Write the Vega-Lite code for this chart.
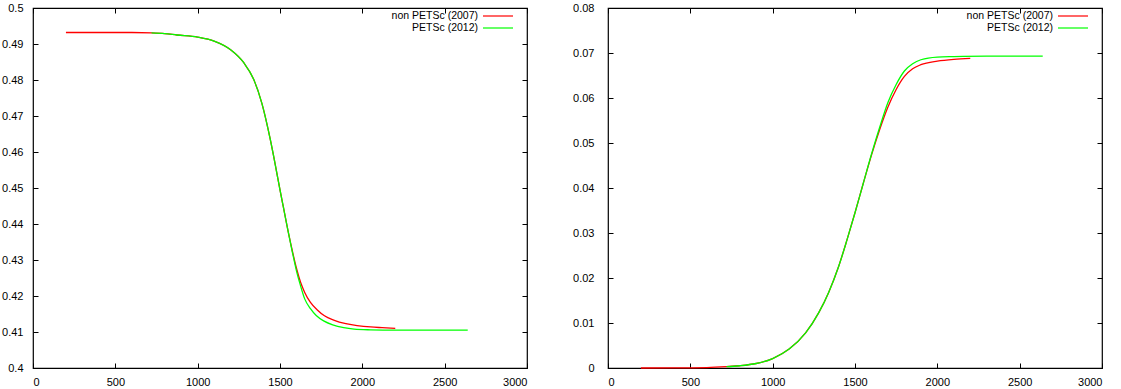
{
  "$schema": "https://vega.github.io/schema/vega-lite/v6.json",
  "autosize": {"type": "pad"},
  "padding": {"left": 0, "top": 1, "right": 0, "bottom": 0},
  "background": "white",
  "spacing": 81,
  "bounds": "flush",
  "config": {
    "view": {"stroke": "#000000", "strokeWidth": 1.2},
    "axis": {
      "grid": false, "domain": false, "tickColor": "#000000", "tickSize": -5, "tickWidth": 1,
      "labelFont": "Liberation Sans", "labelFontSize": 11, "labelColor": "#000000", "title": null
    },
    "legend": {
      "orient": "none", "legendX": 459, "legendY": 2, "padding": 0, "symbolType": "M-3,0H3",
      "symbolSize": 100, "symbolStrokeWidth": 1.2, "labelAlign": "right", "labelOffset": -26,
      "labelFont": "Liberation Sans", "labelFontSize": 10.5, "labelColor": "#000000",
      "rowPadding": 0, "title": null, "labelLimit": 300
    }
  },
  "datasets": {
    "left": [
      {"x": 200, "y": 0.4932, "s": "non PETSc (2007)"},
      {"x": 400, "y": 0.4932, "s": "non PETSc (2007)"},
      {"x": 600, "y": 0.4932, "s": "non PETSc (2007)"},
      {"x": 720, "y": 0.4931, "s": "non PETSc (2007)"},
      {"x": 800, "y": 0.4929, "s": "non PETSc (2007)"},
      {"x": 874, "y": 0.4925, "s": "non PETSc (2007)"},
      {"x": 1000, "y": 0.4919, "s": "non PETSc (2007)"},
      {"x": 1100, "y": 0.4908, "s": "non PETSc (2007)"},
      {"x": 1200, "y": 0.4884, "s": "non PETSc (2007)"},
      {"x": 1280, "y": 0.4848, "s": "non PETSc (2007)"},
      {"x": 1340, "y": 0.4802, "s": "non PETSc (2007)"},
      {"x": 1390, "y": 0.4735, "s": "non PETSc (2007)"},
      {"x": 1440, "y": 0.4637, "s": "non PETSc (2007)"},
      {"x": 1470, "y": 0.4568, "s": "non PETSc (2007)"},
      {"x": 1500, "y": 0.4495, "s": "non PETSc (2007)"},
      {"x": 1520, "y": 0.4448, "s": "non PETSc (2007)"},
      {"x": 1550, "y": 0.4378, "s": "non PETSc (2007)"},
      {"x": 1575, "y": 0.4325, "s": "non PETSc (2007)"},
      {"x": 1600, "y": 0.4277, "s": "non PETSc (2007)"},
      {"x": 1625, "y": 0.4238, "s": "non PETSc (2007)"},
      {"x": 1650, "y": 0.421, "s": "non PETSc (2007)"},
      {"x": 1685, "y": 0.4182, "s": "non PETSc (2007)"},
      {"x": 1725, "y": 0.4162, "s": "non PETSc (2007)"},
      {"x": 1770, "y": 0.4145, "s": "non PETSc (2007)"},
      {"x": 1826, "y": 0.4133, "s": "non PETSc (2007)"},
      {"x": 1900, "y": 0.4123, "s": "non PETSc (2007)"},
      {"x": 1968, "y": 0.4118, "s": "non PETSc (2007)"},
      {"x": 2050, "y": 0.4114, "s": "non PETSc (2007)"},
      {"x": 2120, "y": 0.4112, "s": "non PETSc (2007)"},
      {"x": 2200, "y": 0.411, "s": "non PETSc (2007)"},
      {"x": 720, "y": 0.4931, "s": "PETSc (2012)"},
      {"x": 800, "y": 0.4929, "s": "PETSc (2012)"},
      {"x": 874, "y": 0.4925, "s": "PETSc (2012)"},
      {"x": 1000, "y": 0.4919, "s": "PETSc (2012)"},
      {"x": 1100, "y": 0.4908, "s": "PETSc (2012)"},
      {"x": 1200, "y": 0.4884, "s": "PETSc (2012)"},
      {"x": 1280, "y": 0.4848, "s": "PETSc (2012)"},
      {"x": 1340, "y": 0.4802, "s": "PETSc (2012)"},
      {"x": 1390, "y": 0.4735, "s": "PETSc (2012)"},
      {"x": 1440, "y": 0.4637, "s": "PETSc (2012)"},
      {"x": 1470, "y": 0.4568, "s": "PETSc (2012)"},
      {"x": 1500, "y": 0.4495, "s": "PETSc (2012)"},
      {"x": 1520, "y": 0.4448, "s": "PETSc (2012)"},
      {"x": 1550, "y": 0.4378, "s": "PETSc (2012)"},
      {"x": 1575, "y": 0.4322, "s": "PETSc (2012)"},
      {"x": 1600, "y": 0.427, "s": "PETSc (2012)"},
      {"x": 1625, "y": 0.4228, "s": "PETSc (2012)"},
      {"x": 1650, "y": 0.4192, "s": "PETSc (2012)"},
      {"x": 1685, "y": 0.4165, "s": "PETSc (2012)"},
      {"x": 1720, "y": 0.4146, "s": "PETSc (2012)"},
      {"x": 1765, "y": 0.4131, "s": "PETSc (2012)"},
      {"x": 1820, "y": 0.412, "s": "PETSc (2012)"},
      {"x": 1887, "y": 0.4112, "s": "PETSc (2012)"},
      {"x": 1950, "y": 0.4108, "s": "PETSc (2012)"},
      {"x": 2050, "y": 0.4106, "s": "PETSc (2012)"},
      {"x": 2200, "y": 0.4105, "s": "PETSc (2012)"},
      {"x": 2640, "y": 0.4105, "s": "PETSc (2012)"}
    ],
    "right": [
      {"x": 200, "y": 0, "s": "non PETSc (2007)"},
      {"x": 400, "y": 0.00002, "s": "non PETSc (2007)"},
      {"x": 600, "y": 0.0001, "s": "non PETSc (2007)"},
      {"x": 720, "y": 0.0003, "s": "non PETSc (2007)"},
      {"x": 800, "y": 0.0005, "s": "non PETSc (2007)"},
      {"x": 900, "y": 0.001, "s": "non PETSc (2007)"},
      {"x": 1000, "y": 0.0021, "s": "non PETSc (2007)"},
      {"x": 1100, "y": 0.0042, "s": "non PETSc (2007)"},
      {"x": 1200, "y": 0.0078, "s": "non PETSc (2007)"},
      {"x": 1280, "y": 0.0123, "s": "non PETSc (2007)"},
      {"x": 1340, "y": 0.0168, "s": "non PETSc (2007)"},
      {"x": 1400, "y": 0.0225, "s": "non PETSc (2007)"},
      {"x": 1450, "y": 0.0283, "s": "non PETSc (2007)"},
      {"x": 1500, "y": 0.0345, "s": "non PETSc (2007)"},
      {"x": 1550, "y": 0.041, "s": "non PETSc (2007)"},
      {"x": 1600, "y": 0.0473, "s": "non PETSc (2007)"},
      {"x": 1650, "y": 0.053, "s": "non PETSc (2007)"},
      {"x": 1700, "y": 0.058, "s": "non PETSc (2007)"},
      {"x": 1750, "y": 0.0619, "s": "non PETSc (2007)"},
      {"x": 1800, "y": 0.0648, "s": "non PETSc (2007)"},
      {"x": 1850, "y": 0.0665, "s": "non PETSc (2007)"},
      {"x": 1900, "y": 0.0674, "s": "non PETSc (2007)"},
      {"x": 2000, "y": 0.0682, "s": "non PETSc (2007)"},
      {"x": 2100, "y": 0.0686, "s": "non PETSc (2007)"},
      {"x": 2200, "y": 0.0688, "s": "non PETSc (2007)"},
      {"x": 720, "y": 0.0003, "s": "PETSc (2012)"},
      {"x": 800, "y": 0.0005, "s": "PETSc (2012)"},
      {"x": 900, "y": 0.001, "s": "PETSc (2012)"},
      {"x": 1000, "y": 0.0021, "s": "PETSc (2012)"},
      {"x": 1100, "y": 0.0042, "s": "PETSc (2012)"},
      {"x": 1200, "y": 0.0078, "s": "PETSc (2012)"},
      {"x": 1280, "y": 0.0123, "s": "PETSc (2012)"},
      {"x": 1340, "y": 0.0168, "s": "PETSc (2012)"},
      {"x": 1400, "y": 0.0225, "s": "PETSc (2012)"},
      {"x": 1450, "y": 0.0283, "s": "PETSc (2012)"},
      {"x": 1500, "y": 0.0345, "s": "PETSc (2012)"},
      {"x": 1550, "y": 0.041, "s": "PETSc (2012)"},
      {"x": 1600, "y": 0.0475, "s": "PETSc (2012)"},
      {"x": 1650, "y": 0.0535, "s": "PETSc (2012)"},
      {"x": 1700, "y": 0.059, "s": "PETSc (2012)"},
      {"x": 1750, "y": 0.063, "s": "PETSc (2012)"},
      {"x": 1800, "y": 0.066, "s": "PETSc (2012)"},
      {"x": 1850, "y": 0.0676, "s": "PETSc (2012)"},
      {"x": 1900, "y": 0.0685, "s": "PETSc (2012)"},
      {"x": 2000, "y": 0.0691, "s": "PETSc (2012)"},
      {"x": 2100, "y": 0.0692, "s": "PETSc (2012)"},
      {"x": 2300, "y": 0.0693, "s": "PETSc (2012)"},
      {"x": 2640, "y": 0.0693, "s": "PETSc (2012)"}
    ]
  },
  "resolve": {"scale": {"color": "independent"}, "legend": {"color": "independent"}},
  "hconcat": [
    {
      "width": 494,
      "height": 360,
      "data": {"name": "left"},
      "layer": [
        {
          "mark": {"type": "line", "strokeWidth": 1.3, "interpolate": "monotone"},
          "encoding": {
            "x": {"field": "x", "type": "quantitative", "scale": {"domain": [0, 3000], "nice": false},
                  "axis": {"values": [0, 500, 1000, 1500, 2000, 2500, 3000], "format": "d", "labelPadding": 13}},
            "y": {"field": "y", "type": "quantitative", "scale": {"domain": [0.4, 0.5], "nice": false, "zero": false},
                  "axis": {"values": [0.4, 0.41, 0.42, 0.43, 0.44, 0.45, 0.46, 0.47, 0.48, 0.49, 0.5], "format": ".2~f", "labelPadding": 15}},
            "color": {"field": "s", "type": "nominal",
                      "scale": {"domain": ["non PETSc (2007)", "PETSc (2012)"], "range": ["#ff0000", "#00ff00"]}}
          }
        },
        {
          "mark": {"type": "line", "opacity": 0},
          "encoding": {
            "x": {"field": "x", "type": "quantitative",
                  "axis": {"orient": "top", "values": [0, 500, 1000, 1500, 2000, 2500, 3000], "labels": false}},
            "y": {"field": "y", "type": "quantitative",
                  "axis": {"orient": "right", "values": [0.4, 0.41, 0.42, 0.43, 0.44, 0.45, 0.46, 0.47, 0.48, 0.49, 0.5], "labels": false}},
            "detail": {"field": "s"}
          }
        }
      ],
      "resolve": {"axis": {"x": "independent", "y": "independent"}}
    },
    {
      "width": 494,
      "height": 360,
      "data": {"name": "right"},
      "layer": [
        {
          "mark": {"type": "line", "strokeWidth": 1.3, "interpolate": "monotone"},
          "encoding": {
            "x": {"field": "x", "type": "quantitative", "scale": {"domain": [0, 3000], "nice": false},
                  "axis": {"values": [0, 500, 1000, 1500, 2000, 2500, 3000], "format": "d", "labelPadding": 13}},
            "y": {"field": "y", "type": "quantitative", "scale": {"domain": [0, 0.08], "nice": false},
                  "axis": {"values": [0, 0.01, 0.02, 0.03, 0.04, 0.05, 0.06, 0.07, 0.08], "format": ".2~f", "labelPadding": 19}},
            "color": {"field": "s", "type": "nominal",
                      "scale": {"domain": ["non PETSc (2007)", "PETSc (2012)"], "range": ["#ff0000", "#00ff00"]}}
          }
        },
        {
          "mark": {"type": "line", "opacity": 0},
          "encoding": {
            "x": {"field": "x", "type": "quantitative",
                  "axis": {"orient": "top", "values": [0, 500, 1000, 1500, 2000, 2500, 3000], "labels": false}},
            "y": {"field": "y", "type": "quantitative",
                  "axis": {"orient": "right", "values": [0, 0.01, 0.02, 0.03, 0.04, 0.05, 0.06, 0.07, 0.08], "labels": false}},
            "detail": {"field": "s"}
          }
        }
      ],
      "resolve": {"axis": {"x": "independent", "y": "independent"}}
    }
  ]
}
